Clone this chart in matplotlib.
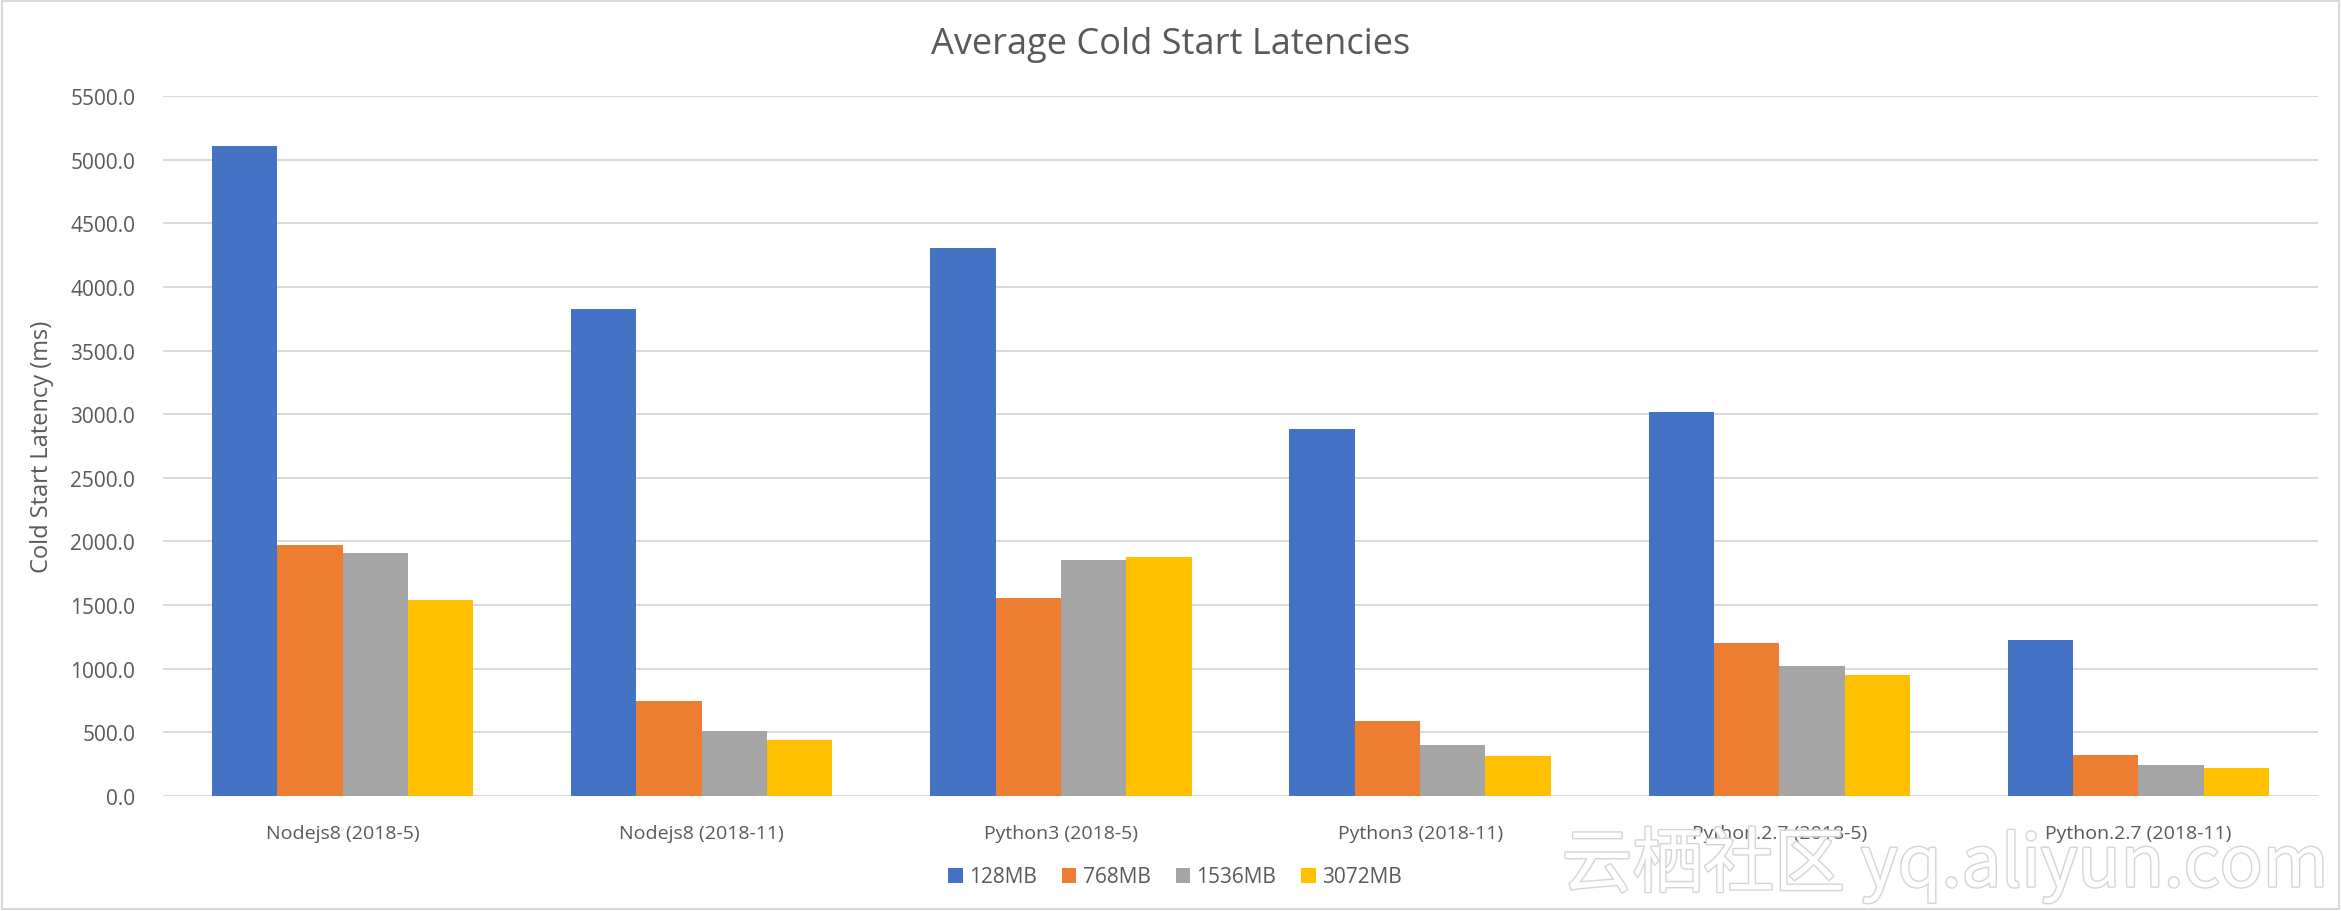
import numpy as np
import matplotlib
matplotlib.use("Agg")
import matplotlib.pyplot as plt
import matplotlib.patheffects as pe
from matplotlib.patches import Rectangle

# data
categories = ["Nodejs8 (2018-5)", "Nodejs8 (2018-11)", "Python3 (2018-5)",
              "Python3 (2018-11)", "Python.2.7 (2018-5)", "Python.2.7 (2018-11)"]
series_names = ["128MB", "768MB", "1536MB", "3072MB"]
mem_128 = [5107, 3826, 4305, 2883, 3017, 1226]
mem_768 = [1972, 746, 1555, 589, 1202, 324]
mem_1536 = [1909, 511, 1854, 403, 1021, 246]
mem_3072 = [1540, 440, 1878, 317, 951, 220]
yticks = np.arange(0, 5501, 500)

colors = ["#4472C4", "#ED7D31", "#A5A5A5", "#FFC000"]
text_col = "#595959"
grid_col = "#D9D9D9"

plt.rcParams['font.family'] = ['Open Sans', 'DejaVu Sans']

fig = plt.figure(figsize=(23.41, 9.12), dpi=100)
ax = fig.add_axes([163 / 2341, 1 - 797 / 912, (2318 - 163) / 2341, (797 - 97) / 912])

x = np.arange(len(categories))
width = 1 / 5.5
allvals = [mem_128, mem_768, mem_1536, mem_3072]
for i, vals in enumerate(allvals):
    ax.bar(x + (i - 1.5) * width, vals, width, color=colors[i], label=series_names[i], zorder=3)

ax.set_xlim(-0.5, len(categories) - 0.5)
ax.set_ylim(0, 5500)
ax.set_yticks(yticks)
ax.set_yticklabels(["%.1f" % v for v in yticks])
ax.set_xticks(x)
ax.set_xticklabels(categories)
ax.tick_params(axis='both', length=0, labelsize=14, colors=text_col)
ax.tick_params(axis='y', pad=20, labelsize=15)
ax.tick_params(axis='x', pad=20)
ax.grid(axis='y', color=grid_col, linewidth=1.4, zorder=0)
for s in ax.spines.values():
    s.set_visible(False)
ax.set_ylabel("Cold Start Latency (ms)", fontsize=17, color=text_col, labelpad=12)

fig.text(0.5, 1 - 45 / 912, "Average Cold Start Latencies", ha='center', va='center',
         fontsize=26, color=text_col)

fig.legend(loc='center', bbox_to_anchor=(1175 / 2341, 1 - 878 / 912), ncol=4, frameon=False,
           fontsize=15, handlelength=0.7, handleheight=0.7, handletextpad=0.3,
           columnspacing=1.2, labelcolor=text_col)

# watermark
fig.text(2328 / 2341, 1 - 866 / 912, "云栖社区 yq.aliyun.com", ha='right', va='center',
         fontsize=51, color='white', family=['Noto Sans CJK SC', 'DejaVu Sans'],
         path_effects=[pe.withStroke(linewidth=2, foreground='#d4d4d4')], zorder=10)

# chart border
fig.patches.append(Rectangle((2 / 2341, 2 / 912), 1 - 4 / 2341, 1 - 4 / 912, transform=fig.transFigure,
                             fill=False, edgecolor=grid_col, linewidth=1.5))

fig.savefig("out.png", dpi=100)
